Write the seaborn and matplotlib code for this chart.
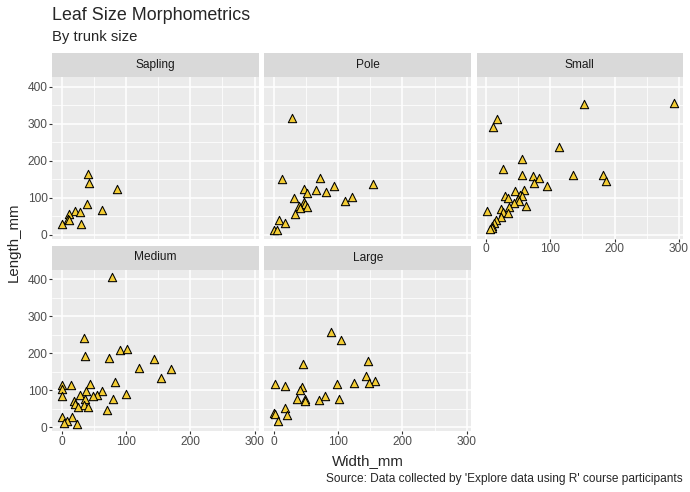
import numpy as np
import pandas as pd
import matplotlib
matplotlib.use('Agg')
import matplotlib.pyplot as plt
import seaborn as sns
from matplotlib.patches import Rectangle

# trunk size groups, in facet order
sizes = ['Sapling', 'Pole', 'Small', 'Medium', 'Large']

sapling_w = [40.5, 42, 86, 39.5, 62.6, 21, 29, 12, 10.5, 11, 30.5, 0]
sapling_l = [164, 139, 123, 83, 68, 65, 63, 56, 44, 40, 29, 29]

pole_w = [29, 12, 72, 154, 94, 46.6, 65, 81, 51, 31.6, 121, 111, 46.6, 48, 39,
          52, 41, 32.6, 8, 18, 0, 5]
pole_l = [315, 150, 153, 137, 132, 123, 121, 116, 112, 101, 103, 92, 90, 83, 77,
          76, 72, 56, 40, 33, 13, 13]

small_w = [292, 152, 17.7, 11.5, 114, 56, 27, 56, 135, 182, 74, 83, 187.5, 75.5,
           95, 45, 59, 30, 35, 53, 55.7, 50.5, 52, 44, 62, 36.5, 23, 2, 27, 35,
           23, 15.6, 13, 10, 9, 7]
small_l = [356, 353, 313, 293, 238, 204, 177, 161, 162, 162, 159, 155, 146, 139,
           131, 118, 121, 104, 101, 108, 104, 98, 92, 87, 78, 74, 71, 65, 63, 59,
           49, 40, 31, 24, 18, 15]

medium_w = [78, 34, 36, 90, 101, 74, 144, 119.5, 170, 154, 83, 43.6, 1, 14, 1, 0,
            38, 62, 28.6, 55.6, 49, 100, 19, 21, 36, 80.5, 34, 25.5, 41.6, 71, 1,
            16.6, 8, 3.6, 24]
medium_l = [407, 242, 194, 210, 212, 188, 185, 161, 157, 134, 123, 118, 114, 114,
            104, 86, 97, 97, 88, 87, 84, 90, 70, 64, 77, 78, 61, 54, 55, 46, 28,
            29, 16, 12, 10]

large_w = [89, 105, 147, 45, 143, 157, 148, 124, 98, 1.6, 18, 44, 40.5, 79, 70,
           102, 36, 48, 49, 17, 1, 2.6, 20, 7]
large_l = [257, 235, 179, 171, 138, 124, 119, 119, 116, 117, 112, 108, 101, 85,
           74, 78, 78, 78, 72, 52, 39, 36, 34, 16]

widths = [sapling_w, pole_w, small_w, medium_w, large_w]
lengths = [sapling_l, pole_l, small_l, medium_l, large_l]

df = pd.concat([pd.DataFrame({'Width_mm': w, 'Length_mm': l, 'Size': s})
                for s, w, l in zip(sizes, widths, lengths)], ignore_index=True)

sns.set_theme(style='darkgrid', rc={'axes.facecolor': '#EBEBEB',
                                    'grid.color': 'white',
                                    'axes.edgecolor': '#EBEBEB'})
plt.rcParams['font.family'] = ['Liberation Sans', 'DejaVu Sans']

g = sns.relplot(data=df, x='Width_mm', y='Length_mm', col='Size', col_wrap=3,
                col_order=sizes, kind='scatter', marker='^', s=36,
                color='#F3CC34', edgecolor='black', linewidth=0.75,
                height=2, aspect=1, facet_kws=dict(despine=False))
fig = g.figure
fig.set_size_inches(6.9, 4.92)
g.set_titles('')
g.set_axis_labels('', '')

W, H = 690, 492
lefts = [52.3, 264.4, 476.5]
pw, ph = 206.6, 161.5
bottoms = [238.5, 431]
strip_h = 24 / ph

# ggplot style limits: data range plus 5%
xlo, xhi = df['Width_mm'].min(), df['Width_mm'].max()
ylo, yhi = df['Length_mm'].min(), df['Length_mm'].max()
xpad, ypad = 0.05 * (xhi - xlo), 0.05 * (yhi - ylo)

for i, (ax, name) in enumerate(zip(g.axes.flat, sizes)):
    r, c = divmod(i, 3)
    ax.set_position([lefts[c] / W, 1 - bottoms[r] / H, pw / W, ph / H])
    ax.set_xlim(xlo - xpad, xhi + xpad)
    ax.set_ylim(ylo - ypad, yhi + ypad)
    ax.set_xticks([0, 100, 200, 300])
    ax.set_yticks([0, 100, 200, 300, 400])
    ax.set_xticks([50, 150, 250], minor=True)
    ax.set_yticks([50, 150, 250, 350], minor=True)
    ax.grid(which='major', lw=1.1, color='white')
    ax.grid(which='minor', lw=0.55, color='white')
    for sp in ax.spines.values():
        sp.set_visible(False)
    show_x = name in ('Small', 'Medium', 'Large')
    show_y = c == 0
    ax.tick_params(axis='x', which='major', bottom=show_x, labelbottom=show_x,
                   length=2.2, width=0.8, color='#333333', labelcolor='#4D4D4D',
                   labelsize=8.6, pad=1.2)
    ax.tick_params(axis='y', which='major', left=show_y, labelleft=show_y,
                   length=2.2, width=0.8, color='#333333', labelcolor='#4D4D4D',
                   labelsize=8.6, pad=1.2)
    ax.tick_params(which='minor', bottom=False, left=False)
    for lab in ax.get_xticklabels():
        lab.set_visible(show_x)
    for lab in ax.get_yticklabels():
        lab.set_visible(show_y)
    # facet strip
    ax.add_patch(Rectangle((0, 1), 1, strip_h, transform=ax.transAxes,
                           clip_on=False, facecolor='#D9D9D9', edgecolor='none'))
    ax.text(0.5, 1 + strip_h / 2, name, transform=ax.transAxes, ha='center',
            va='center', fontsize=8.6, color='#1A1A1A')

fig.text(52.3 / W, 1 - 16 / H, 'Leaf Size Morphometrics', fontsize=12.9,
         va='center', ha='left')
fig.text(52.3 / W, 1 - 37 / H, 'By trunk size', fontsize=10.7,
         va='center', ha='left')
fig.text(367.5 / W, 1 - 461 / H, 'Width_mm', fontsize=10.8, ha='center',
         va='center')
fig.text(14 / W, 1 - 242 / H, 'Length_mm', fontsize=10.8, ha='center',
         va='center', rotation=90)
fig.text(683 / W, 1 - 479 / H,
         "Source: Data collected by 'Explore data using R' course participants",
         fontsize=8.6, ha='right', va='center')

fig.savefig('out.png', dpi=100)
